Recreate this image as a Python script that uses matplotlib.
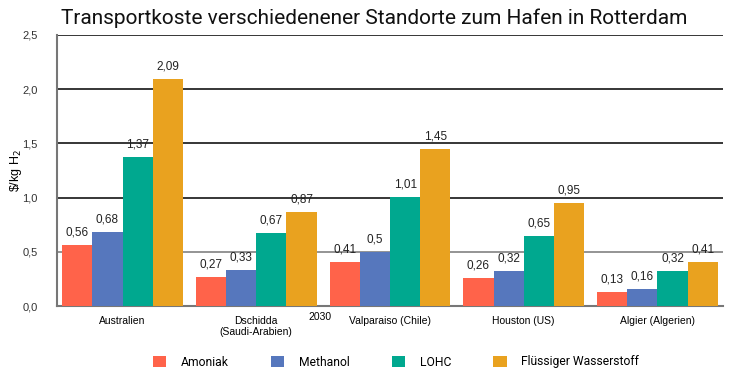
import numpy as np
import matplotlib
matplotlib.use("Agg")
import matplotlib.pyplot as plt
from matplotlib.patches import Patch

# ================================================
# Data
# ================================================
standorte = ["Australien", "Dschidda\n(Saudi-Arabien)", "Valparaiso (Chile)",
             "Houston (US)", "Algier (Algerien)"]
amoniak = [0.56, 0.27, 0.41, 0.26, 0.13]
methanol = [0.68, 0.33, 0.50, 0.32, 0.16]
lohc = [1.37, 0.67, 1.01, 0.65, 0.32]
wasserstoff = [2.09, 0.87, 1.45, 0.95, 0.41]
serien = ["Amoniak", "Methanol", "LOHC", "Flüssiger Wasserstoff"]
yticks = [0.0, 0.5, 1.0, 1.5, 2.0, 2.5]

farben = ["#FF634A", "#5677BD", "#00A88F", "#E9A21F"]

plt.rcParams["font.family"] = ["Roboto", "DejaVu Sans"]


def fmt(v):
    s = ("%.2f" % v).rstrip("0")
    if s.endswith("."):
        s += "0"
    return s.replace(".", ",")


fig = plt.figure(figsize=(7.31, 3.87), dpi=100)
ax = fig.add_axes([57 / 731, 1 - 306 / 387, 666 / 731, 271 / 387])

x = np.arange(len(standorte))
w = 0.226
for i, (werte, farbe) in enumerate(zip([amoniak, methanol, lohc, wasserstoff], farben)):
    pos = x + (i - 1.5) * w
    ax.bar(pos, werte, width=w, color=farbe, zorder=3)
    for p, v in zip(pos, werte):
        ax.text(p, v + 0.06, fmt(v), ha="center", va="bottom",
                fontsize=8.5, color="#222222", family="Liberation Sans", zorder=4)

# gridlines
for yv in yticks[1:]:
    ax.axhline(yv, color="black" if yv >= 1.0 else "#777777", lw=1.1, zorder=1)

ax.set_xlim(-0.49, 4.49)
ax.set_ylim(0, 2.5)
ax.set_yticks(yticks)
ax.set_yticklabels([("%.1f" % v).replace(".", ",") for v in yticks])
ax.tick_params(axis="y", length=0, pad=14, labelsize=8, labelcolor="#333333")
for lab in ax.get_yticklabels():
    lab.set_family("Liberation Sans")
ax.set_xticks(x)
ax.set_xticklabels(standorte, fontsize=7.5, family="Liberation Sans", va="top")
ax.tick_params(axis="x", length=0, pad=7)

for s in ["top", "right"]:
    ax.spines[s].set_visible(False)
for s in ["left", "bottom"]:
    ax.spines[s].set_color("#777777")
    ax.spines[s].set_linewidth(1.5)

ax.set_ylabel(r"\$/kg H$_2$", fontsize=9, family="Liberation Sans")
ax.yaxis.set_label_coords(-33 / 666, 0.5)

# stray year label
ax.text(1.48, -0.055, "2030", ha="center", va="top", fontsize=7.5,
        family="Liberation Sans")

fig.text(61 / 731, 1 - 18 / 387, "Transportkoste verschiedenener Standorte zum Hafen in Rotterdam",
         fontsize=15, va="center", ha="left", color="#111111")

handles = [Patch(facecolor=c, edgecolor="none") for c in farben]
fig.legend(handles, serien, loc="center", bbox_to_anchor=(396 / 731, 1 - 362 / 387),
           ncol=4, frameon=False, fontsize=8.7, handlelength=1.1, handleheight=1.1,
           columnspacing=3.5, handletextpad=1.2)

fig.savefig("out.png", dpi=100)
